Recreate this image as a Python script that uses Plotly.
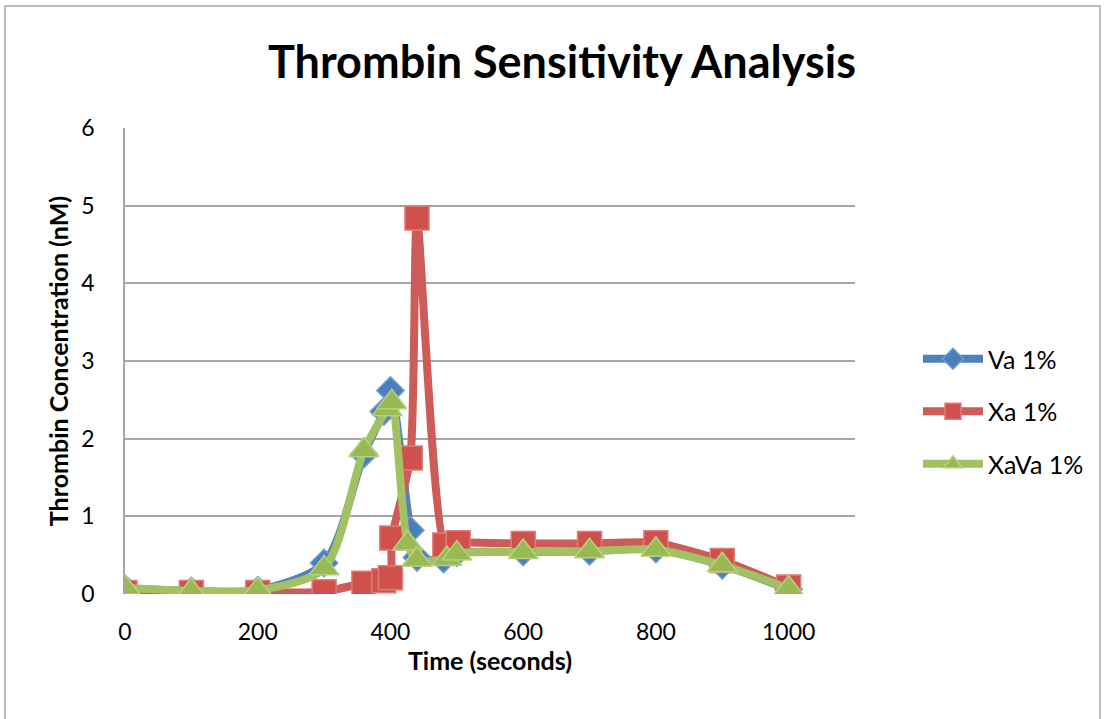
import plotly.graph_objects as go

# Data
va_x = [0, 100, 200, 300, 360, 390, 400, 430, 440, 480, 500, 600, 700, 800, 900, 1000]
va_y = [0.07, 0.04, 0.05, 0.40, 1.80, 2.35, 2.62, 0.82, 0.47, 0.45, 0.53, 0.54, 0.55, 0.58, 0.37, 0.06]

xa_x = [0, 100, 200, 300, 360, 390, 400, 402, 430, 440, 482, 502, 600, 700, 800, 900, 1000]
xa_y = [0.02, 0.02, 0.02, 0.03, 0.14, 0.17, 0.21, 0.72, 1.75, 4.84, 0.63, 0.66, 0.65, 0.65, 0.66, 0.43, 0.09]

xava_x = [0, 100, 200, 300, 360, 395, 402, 426, 440, 485, 500, 600, 700, 800, 900, 1000]
xava_y = [0.08, 0.04, 0.05, 0.33, 1.85, 2.38, 2.47, 0.65, 0.44, 0.45, 0.52, 0.54, 0.55, 0.57, 0.37, 0.07]

x_ticks = [0, 200, 400, 600, 800, 1000]
y_ticks = [0, 1, 2, 3, 4, 5, 6]

FONT = "Lato"

fig = go.Figure()
fig.add_trace(go.Scatter(
    x=va_x, y=va_y, name="Va 1%", mode="lines+markers", legendgroup="a",
    line=dict(color="#4F81BD", width=8, shape="spline", smoothing=0.8),
    marker=dict(symbol="diamond", size=21, color="#4A7EBB", line=dict(color="#6F9BD1", width=1.5)),
))
fig.add_trace(go.Scatter(
    x=xa_x, y=xa_y, name="Xa 1%", mode="lines+markers", legendgroup="b",
    line=dict(color="#CD5C58", width=8, shape="spline", smoothing=0.6),
    marker=dict(symbol="square", size=24, color="#D0504B", line=dict(color="#DE7C78", width=1.5)),
))
fig.add_trace(go.Scatter(
    x=xava_x, y=xava_y, name="XaVa 1%", mode="lines+markers", legendgroup="c",
    line=dict(color="#A2C163", width=8, shape="spline", smoothing=0.8),
    marker=dict(symbol="triangle-up", size=26, color="#98B954", line=dict(color="#B7D27E", width=1.5)),
))

fig.update_layout(
    width=1105, height=719,
    margin=dict(l=125, r=250, t=128, b=125),
    paper_bgcolor="white", plot_bgcolor="white",
    font=dict(family=FONT, size=23, color="black"),
    title=dict(text="<b>Thrombin Sensitivity Analysis</b>", x=562 / 1105, xanchor="center",
               y=1 - 62 / 719, yanchor="middle", font=dict(family=FONT, size=45, color="black")),
    xaxis=dict(range=[0, 1100], tickvals=x_ticks, showgrid=False, zeroline=False,
               showline=False, ticks="", tickfont=dict(size=23), ticklabelstandoff=22,
               title=dict(text="<b>Time (seconds)</b>", font=dict(size=25), standoff=6)),
    yaxis=dict(range=[0, 6], tickvals=y_ticks, showgrid=True, gridcolor="#A6A6A6", gridwidth=1.5,
               zeroline=False, showline=True, linecolor="#A6A6A6", linewidth=1.5,
               ticks="", tickfont=dict(size=23), ticklabelstandoff=24,
               title=dict(text="<b>Thrombin Concentration (nM)</b>", font=dict(size=25), standoff=6)),
    legend=dict(x=918 / 1105, xref="container", y=1 - 336 / 719, yref="container",
                xanchor="left", yanchor="top", itemwidth=60, tracegroupgap=17,
                font=dict(size=25), bgcolor="rgba(0,0,0,0)"),
    shapes=[dict(type="rect", xref="paper", yref="paper",
                 x0=(5 - 125) / 730, x1=(1100 - 125) / 730,
                 y0=(594 - 730) / 466, y1=(594 - 6) / 466,
                 line=dict(color="#A6A6A6", width=1.5), fillcolor="rgba(0,0,0,0)", layer="below")],
)

fig.write_html("out.html")
